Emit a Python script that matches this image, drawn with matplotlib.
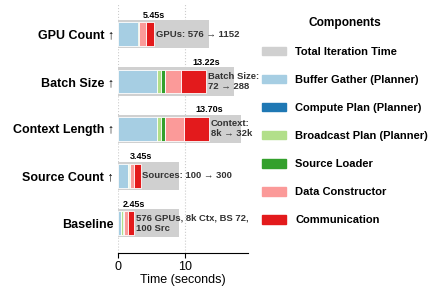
import matplotlib
matplotlib.use("Agg")
import matplotlib.pyplot as plt
from matplotlib.patches import Patch

plt.rcParams["font.family"] = ["Liberation Sans", "DejaVu Sans"]

# ---- data (bottom to top) ----
scenarios = ["Baseline", "Source Count ↑", "Context Length ↑", "Batch Size ↑", "GPU Count ↑"]
total_time = [9.1, 9.1, 18.4, 17.4, 13.6]          # grey "Total Iteration Time"
buffer_gather = [0.40, 1.45, 5.85, 5.85, 2.95]
compute_plan = [0.10, 0.05, 0.05, 0.05, 0.02]
broadcast_plan = [0.25, 0.10, 0.50, 0.50, 0.03]
source_loader = [0.15, 0.15, 0.60, 0.60, 0.15]
data_constructor = [0.65, 0.70, 2.90, 2.45, 1.10]
communication = [0.90, 1.00, 3.80, 3.77, 1.20]
stack_total = [2.45, 3.45, 13.70, 13.22, 5.45]
notes = ["576 GPUs, 8k Ctx, BS 72,\n100 Src", "Sources: 100 → 300",
         "Context:\n8k → 32k", "Batch Size:\n72 → 288", "GPUs: 576 → 1152"]

components = [
    ("Buffer Gather (Planner)", buffer_gather, "#a6cee3"),
    ("Compute Plan (Planner)", compute_plan, "#1f78b4"),
    ("Broadcast Plan (Planner)", broadcast_plan, "#b2df8a"),
    ("Source Loader", source_loader, "#33a02c"),
    ("Data Constructor", data_constructor, "#fb9a99"),
    ("Communication", communication, "#e31a1c"),
]
GREY = "#d0d0d0"

fig = plt.figure(figsize=(4.33, 2.89), dpi=100)
ax = fig.add_axes([0.2725, 0.1246, 0.3005, 0.86])

y = list(range(len(scenarios)))
ax.barh(y, total_time, height=0.6, color=GREY, zorder=1)
left = [0.0] * len(y)
for name, vals, col in components:
    ax.barh(y, vals, left=left, height=0.5, color=col, edgecolor="white",
            linewidth=0.6, zorder=2)
    left = [l + v for l, v in zip(left, vals)]

for yi, tot, note in zip(y, stack_total, notes):
    ax.text(tot, yi + 0.31, f"{tot:.2f}s", ha="center", va="bottom",
            fontsize=6.5, fontweight="bold", zorder=4)
    ax.text(tot + 0.2, yi, note, ha="left", va="center", fontsize=6.8,
            fontweight="bold", color="#333333", linespacing=1.1, zorder=4)

ax.set_yticks(y)
ax.set_yticklabels(scenarios, fontsize=9, fontweight="bold")
ax.tick_params(axis="y", length=0, pad=3)
ax.set_xlim(0, 19.5)
ax.set_ylim(-0.63, 4.63)
ax.set_xticks([0, 10])
ax.tick_params(axis="x", labelsize=9, length=3.5, pad=2)
ax.set_xlabel("Time (seconds)", fontsize=9, labelpad=1)
ax.grid(axis="x", linestyle=":", color="#cccccc", linewidth=0.8, zorder=0)
ax.set_axisbelow(True)
for s in ("top", "right", "left"):
    ax.spines[s].set_visible(False)

handles = [Patch(color=GREY, label="Total Iteration Time")]
handles += [Patch(color=col, label=name) for name, _, col in components]
leg = fig.legend(handles=handles, loc="upper left", bbox_to_anchor=(0.582, 0.977),
                 frameon=False, title="Components", fontsize=8.0,
                 title_fontproperties={"weight": "bold", "size": 8.6},
                 handlelength=2.2, handleheight=0.8, labelspacing=1.62,
                 handletextpad=0.8)
for t in leg.get_texts():
    t.set_fontweight("bold")

fig.savefig("out.png", dpi=100)
